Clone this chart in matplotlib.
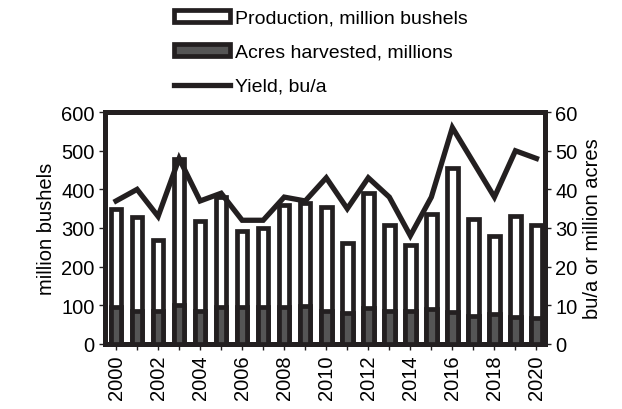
import matplotlib.pyplot as plt
from matplotlib.patches import Patch
from matplotlib.lines import Line2D

plt.rcParams['font.family'] = ['Liberation Sans', 'DejaVu Sans']

# --- Datos ---
years = list(range(2000, 2021))
production = [350, 328, 268, 478, 317, 380, 292, 300, 360, 365, 355,
              262, 390, 307, 255, 335, 455, 323, 278, 330, 307]
acres = [9.6, 8.5, 8.4, 10.0, 8.6, 9.5, 9.5, 9.5, 9.6, 9.9, 8.6,
         8.1, 9.2, 8.4, 8.6, 9.1, 8.3, 7.2, 7.6, 6.9, 6.8]
yield_bu = [37, 40, 33, 48, 37, 39, 32, 32, 38, 37, 43,
            35, 43, 38, 28, 38, 56, 47, 38, 50, 48]

x = list(range(len(years)))

fig = plt.figure(figsize=(6.22, 4.10), dpi=100)
ax = fig.add_axes([0.169, 0.159, 0.707, 0.565])
ax2 = ax.twinx()

w = 0.5
ax.bar(x, production, width=w, color='white', edgecolor='#231f20', linewidth=3.4, zorder=2)
ax2.bar(x, acres, width=w, color='#555555', edgecolor='#231f20', linewidth=3.4, zorder=3)
ax2.plot(x, yield_bu, color='#231f20', linewidth=3.8, zorder=4, solid_joinstyle='miter')

ax.set_xlim(-0.52, 20.4)
ax.set_ylim(0, 600)
ax2.set_ylim(0, 60)
ax.set_yticks(range(0, 601, 100))
ax2.set_yticks(range(0, 61, 10))
ax.set_xticks(x)
ax.set_xticklabels([str(y) if y % 2 == 0 else '' for y in years], rotation=90)

ax.set_ylabel('million bushels', fontsize=14.5)
ax2.set_ylabel('bu/a or million acres', fontsize=14.5)
ax.tick_params(axis='both', labelsize=14.5, width=1, length=4, color='#231f20')
ax2.tick_params(axis='y', labelsize=14.5, width=1, length=4, color='#231f20')

for a in (ax, ax2):
    for s in a.spines.values():
        s.set_linewidth(3.6)
        s.set_color('#231f20')

handles = [
    Patch(facecolor='white', edgecolor='#231f20', linewidth=3.4),
    Patch(facecolor='#555555', edgecolor='#231f20', linewidth=3.4),
    Line2D([], [], color='#231f20', linewidth=3.8),
]
labels = ['Production, million bushels', 'Acres harvested, millions', 'Yield, bu/a']
fig.legend(handles, labels, loc='upper left', bbox_to_anchor=(0.262, 1.0),
           frameon=False, fontsize=14, handlelength=2.9, handleheight=0.55,
           handletextpad=0.25, labelspacing=0.88, borderaxespad=0.15)

fig.savefig('out.png', dpi=100)
